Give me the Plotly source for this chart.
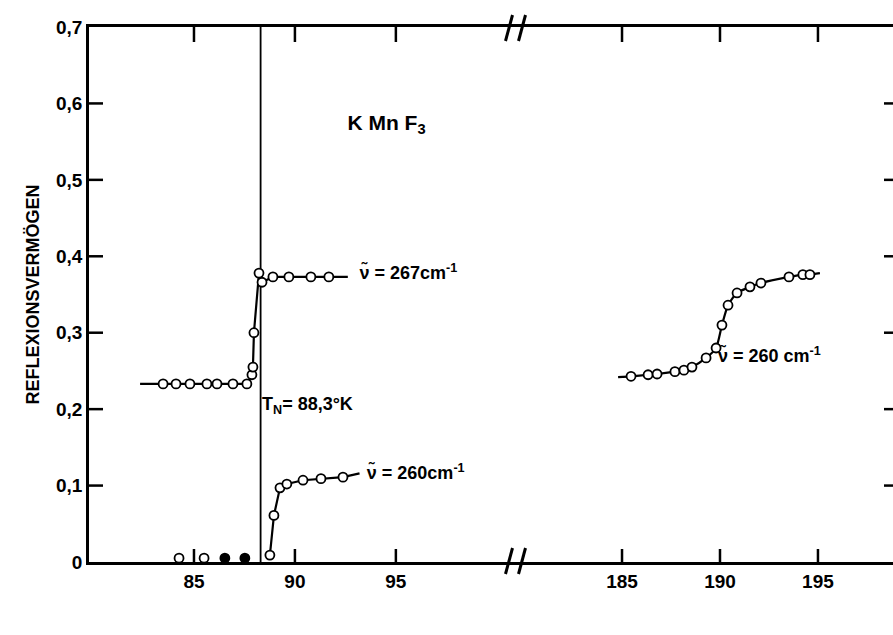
import plotly.graph_objects as go

# ---------------- data ----------------
# nu = 267 cm^-1, low-temperature side
t267 = [83.47, 84.11, 84.80, 85.64, 86.14, 86.93, 87.62, 87.87, 87.92, 87.97, 88.22, 88.37, 88.91, 89.70, 90.79, 91.68]
r267 = [0.233, 0.233, 0.233, 0.233, 0.233, 0.233, 0.233, 0.245, 0.255, 0.300, 0.378, 0.366, 0.373, 0.373, 0.373, 0.373]
curve_t267 = [82.33] + t267 + [92.62]
curve_r267 = [0.233] + r267 + [0.373]

# nu = 260 cm^-1, low-temperature side
t260a_open = [84.26, 85.50, 88.76, 88.96, 89.26, 89.60, 90.40, 91.29, 92.38]
r260a_open = [0.005, 0.005, 0.009, 0.061, 0.097, 0.102, 0.107, 0.109, 0.111]
t260a_filled = [86.53, 87.52]
r260a_filled = [0.005, 0.005]
curve_t260a = [88.76, 88.96, 89.26, 89.60, 90.40, 91.29, 92.38, 93.20]
curve_r260a = [0.009, 0.061, 0.097, 0.102, 0.107, 0.109, 0.111, 0.116]

# nu = 260 cm^-1, high-temperature side
t260b = [185.46, 186.33, 186.79, 187.70, 188.16, 188.57, 189.29, 189.80, 190.10, 190.41,
         190.87, 191.53, 192.09, 193.52, 194.23, 194.59]
r260b = [0.243, 0.245, 0.246, 0.249, 0.251, 0.255, 0.267, 0.280, 0.310, 0.336,
         0.352, 0.360, 0.365, 0.373, 0.376, 0.376]
curve_t260b = [184.80] + t260b + [195.10]
curve_r260b = [0.242] + r260b + [0.378]

T_N = 88.3

y_ticks = [0, 0.1, 0.2, 0.3, 0.4, 0.5, 0.6, 0.7]
y_ticktext = ["0", "0,1", "0,2", "0,3", "0,4", "0,5", "0,6", "0,7"]
x_ticks_left = [85, 90, 95]
x_ticks_right = [185, 190, 195]

# text labels (left-anchored) on the low-temperature segment
labels_left = ["<b>K Mn F<sub>3</sub></b>", "<b>T<sub>N</sub>= 88,3°K</b>",
               "<b>ν̃ = 267cm<sup>-1</sup></b>", "<b>ν̃ = 260cm<sup>-1</sup></b>"]
labels_left_x = [92.6, 88.37, 93.2, 93.56]
labels_left_y = [0.572, 0.205, 0.376, 0.114]
labels_left_size = [21, 18, 18, 18]
label_right = "<b>ν̃ = 260 cm<sup>-1</sup></b>"
label_right_x, label_right_y = 189.9, 0.267

# ---------------- figure ----------------
FONT = "Liberation Sans"
W, H = 893, 635
ML, MR, MT, MB = 89, 0, 27, 73
PW, PH = W - ML - MR, H - MT - MB
split = (517 - ML) / PW
XL = [79.8, 101.0]
XR = [179.64, 198.83]
YR = [0, 0.7]


def px(xp):
    return (xp - ML) / PW


def py(yp):
    return (H - MB - yp) / PH


kx_left = (XL[1] - XL[0]) / (split * PW)
kx_right = (XR[1] - XR[0]) / ((1 - split) * PW)
ky = (YR[1] - YR[0]) / PH

fig = go.Figure()

line_style = dict(color="black", width=2.2)
marker_open = dict(symbol="circle", size=9, color="white", line=dict(color="black", width=1.8))
marker_fill = dict(symbol="circle", size=9, color="black", line=dict(color="black", width=1.8))
tick_style = dict(color="black", width=2.5)


def tick_trace(xs, ys, xa):
    return go.Scatter(x=xs, y=ys, mode="lines", line=tick_style, xaxis=xa, yaxis="y",
                      hoverinfo="skip")


# inside tick marks at the tick values
for xa, vals in (("x", x_ticks_left), ("x2", x_ticks_right)):
    xs, ys = [], []
    for v in vals:
        xs += [v, v, None, v, v, None]
        ys += [YR[0], YR[0] + 13 * ky, None, YR[1], YR[1] - 15 * ky, None]
    fig.add_trace(tick_trace(xs, ys, xa))
xs, ys = [], []
for v in y_ticks[1:7]:
    xs += [XL[0], XL[0] + 14 * kx_left, None]
    ys += [v, v, None]
fig.add_trace(tick_trace(xs, ys, "x"))
xs, ys = [], []
for v in y_ticks[1:7]:
    xs += [XR[1] - 9 * kx_right, XR[1], None]
    ys += [v, v, None]
fig.add_trace(tick_trace(xs, ys, "x2"))

# T_N vertical line
fig.add_trace(go.Scatter(x=[T_N, T_N], y=YR, mode="lines", line=dict(color="black", width=1.8),
                         xaxis="x", yaxis="y", hoverinfo="skip"))

fig.add_trace(go.Scatter(x=curve_t267, y=curve_r267, mode="lines", line=line_style,
                         xaxis="x", yaxis="y", hoverinfo="skip"))
fig.add_trace(go.Scatter(x=t267, y=r267, mode="markers", marker=marker_open, xaxis="x", yaxis="y"))

fig.add_trace(go.Scatter(x=curve_t260a, y=curve_r260a, mode="lines", line=line_style,
                         xaxis="x", yaxis="y", hoverinfo="skip"))
fig.add_trace(go.Scatter(x=t260a_open, y=r260a_open, mode="markers", marker=marker_open, xaxis="x", yaxis="y"))
fig.add_trace(go.Scatter(x=t260a_filled, y=r260a_filled, mode="markers", marker=marker_fill, xaxis="x", yaxis="y"))

fig.add_trace(go.Scatter(x=curve_t260b, y=curve_r260b, mode="lines",
                         line=dict(color="black", width=2.2, shape="spline", smoothing=0.6),
                         xaxis="x2", yaxis="y", hoverinfo="skip"))
fig.add_trace(go.Scatter(x=t260b, y=r260b, mode="markers", marker=marker_open, xaxis="x2", yaxis="y"))

# text labels as text traces
fig.add_trace(go.Scatter(x=labels_left_x, y=labels_left_y, mode="text", text=labels_left,
                         textposition="middle right",
                         textfont=dict(family=FONT, size=labels_left_size, color="black"),
                         xaxis="x", yaxis="y", hoverinfo="skip", cliponaxis=False))
fig.add_trace(go.Scatter(x=[label_right_x], y=[label_right_y], mode="text", text=[label_right],
                         textposition="middle right",
                         textfont=dict(family=FONT, size=18, color="black"),
                         xaxis="x2", yaxis="y", hoverinfo="skip", cliponaxis=False))
# x-axis title, centred below the broken axis
fig.add_trace(go.Scatter(x=[XL[0] + (500 - ML) * kx_left], y=[YR[0] - (620 - (H - MB)) * ky],
                         mode="text", text=["<b>TEMPERATUR  [°K]</b>"], textposition="middle center",
                         textfont=dict(family=FONT, size=20, color="black"),
                         xaxis="x", yaxis="y", hoverinfo="skip", cliponaxis=False))

tickfont = dict(family=FONT, size=19, color="black")
common_x = dict(showline=True, linewidth=2.5, linecolor="black", mirror=True,
                ticks="", showgrid=False, zeroline=False, tickfont=tickfont, anchor="y")

fig.update_layout(
    width=W, height=H,
    margin=dict(l=ML, r=MR, t=MT, b=MB, pad=0),
    paper_bgcolor="white", plot_bgcolor="white",
    showlegend=False,
    xaxis=dict(domain=[0, split], range=XL, tickvals=x_ticks_left,
               ticktext=["<b>%d</b>" % v for v in x_ticks_left], **common_x),
    xaxis2=dict(domain=[split, 1], range=XR, tickvals=x_ticks_right,
                ticktext=["<b>%d</b>" % v for v in x_ticks_right], **common_x),
    yaxis=dict(range=YR, tickvals=y_ticks, ticktext=["<b>%s</b>" % t for t in y_ticktext],
               ticks="", showline=True, linewidth=2.5, linecolor="black", showgrid=False,
               zeroline=False, tickfont=tickfont, anchor="x",
               title=dict(text="<b>REFLEXIONSVERMÖGEN</b>", standoff=12,
                          font=dict(family=FONT, size=18, color="black"))),
)

# axis break marks //
for yc in (py(561), py(28)):
    for xc in (px(509), px(522)):
        fig.add_shape(type="line", xref="paper", yref="paper",
                      x0=xc - 3.5 / PW, x1=xc + 3.5 / PW, y0=yc - 13 / PH, y1=yc + 13 / PH,
                      line=dict(color="black", width=3))

fig.write_html("out.html")
